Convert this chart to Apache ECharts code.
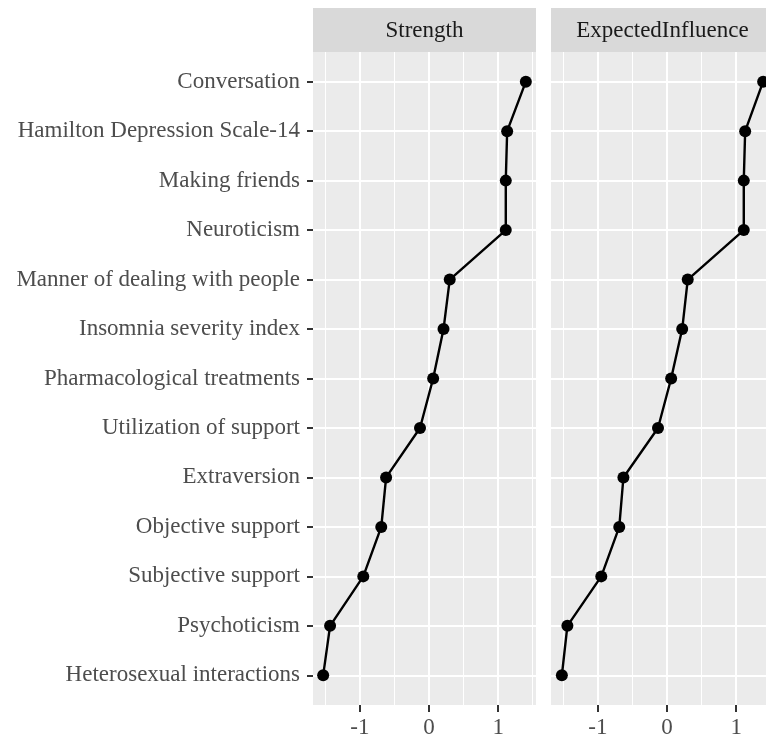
<!DOCTYPE html>
<html>
<head>
<meta charset="utf-8">
<script src="https://cdn.jsdelivr.net/npm/echarts@6/dist/echarts.min.js"></script>
<style>
  html, body { margin: 0; padding: 0; background: #fff; overflow: hidden; }
  #chart { width: 780px; height: 736px; }
</style>
</head>
<body>
<div id="chart"></div>
<script>
// centrality indices, listed top to bottom
const nodes = [
  'Conversation',
  'Hamilton Depression Scale-14',
  'Making friends',
  'Neuroticism',
  'Manner of dealing with people',
  'Insomnia severity index',
  'Pharmacological treatments',
  'Utilization of support',
  'Extraversion',
  'Objective support',
  'Subjective support',
  'Psychoticism',
  'Heterosexual interactions'
];
const strength = [1.40, 1.13, 1.11, 1.11, 0.30, 0.21, 0.06, -0.13, -0.62, -0.69, -0.95, -1.43, -1.53];
const expectedInfluence = [1.39, 1.13, 1.11, 1.11, 0.30, 0.22, 0.06, -0.13, -0.63, -0.69, -0.95, -1.44, -1.52];
const panels = ['Strength', 'ExpectedInfluence'];
const xTicks = [-1, 0, 1];
const xMinor = [-1.5, -0.5, 0.5, 1.5];

const FONT = '"Liberation Serif", "DejaVu Serif", serif';
const n = nodes.length;
const yTicks = nodes.map((_, i) => n - i);
const xMin = -1.677, xMax = 1.547;

// the page is wider than the window so the right facet is cut like the original
const panelLeft = [313, 551];
const panelW = 223;
const panelTop = 52, panelH = 653;

const chart = echarts.init(document.getElementById('chart'));

const grid = [], xAxis = [], yAxis = [], series = [], graphic = [];
const values = [strength, expectedInfluence];

panels.forEach((name, p) => {
  grid.push({
    left: panelLeft[p], top: panelTop, width: panelW, height: panelH,
    outerBoundsMode: 'none', containLabel: false,
    show: true, backgroundColor: '#EBEBEB', borderWidth: 0
  });
  // major x axis (ticks + labels)
  xAxis.push({
    gridIndex: p, type: 'value', min: xMin, max: xMax, position: 'bottom',
    axisLine: { show: false, onZero: false },
    axisTick: { customValues: xTicks, length: 7, lineStyle: { color: '#333', width: 2 } },
    axisLabel: { customValues: xTicks, color: '#4D4D4D', fontFamily: FONT, fontSize: 23, margin: 11 },
    splitLine: { lineStyle: { color: '#fff', width: 2 } }
  });
  // minor grid lines
  xAxis.push({
    gridIndex: p, type: 'value', min: xMin, max: xMax, position: 'top',
    axisLine: { show: false, onZero: false },
    axisTick: { show: false, customValues: xMinor },
    axisLabel: { show: false, customValues: xMinor },
    splitLine: { lineStyle: { color: '#fff', width: 1 } }
  });
  yAxis.push({
    gridIndex: p, type: 'value', min: 0.4, max: n + 0.6, position: 'left',
    axisLine: { show: false, onZero: false },
    axisTick: { show: p === 0, customValues: yTicks, length: 6, lineStyle: { color: '#333', width: 2 } },
    axisLabel: {
      show: p === 0, customValues: yTicks, color: '#4D4D4D', fontFamily: FONT, fontSize: 23, margin: 13,
      formatter: v => nodes[n - Math.round(v)]
    },
    splitLine: { lineStyle: { color: '#fff', width: 2 } }
  });
  series.push({
    name, type: 'line', xAxisIndex: p * 2, yAxisIndex: p,
    data: values[p].map((v, i) => [v, n - i]),
    symbol: 'circle', symbolSize: 12,
    lineStyle: { color: '#000', width: 2.4 },
    itemStyle: { color: '#000' },
    z: 5
  });
  // facet strip
  graphic.push({
    type: 'rect', shape: { x: panelLeft[p], y: 8, width: panelW, height: 44 },
    style: { fill: '#D9D9D9' }
  });
  graphic.push({
    type: 'text', x: panelLeft[p] + panelW / 2, y: 31,
    style: { text: name, fill: '#1A1A1A', font: '23px ' + FONT, align: 'center', verticalAlign: 'middle' }
  });
});

chart.setOption({
  backgroundColor: '#fff',
  animation: false,
  grid, xAxis, yAxis, series, graphic
});
</script>
</body>
</html>
